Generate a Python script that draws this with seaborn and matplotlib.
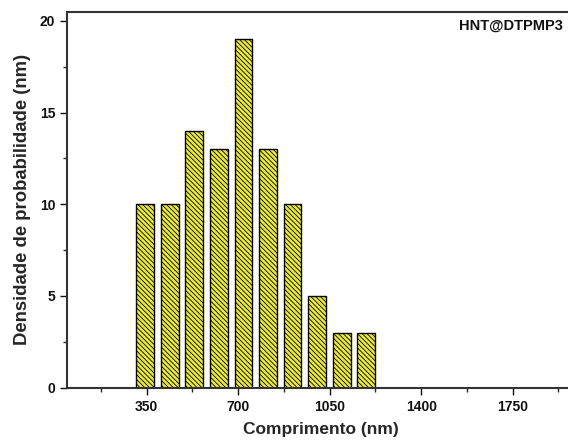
import matplotlib
matplotlib.use("Agg")
import matplotlib.pyplot as plt
import seaborn as sns
import numpy as np
from matplotlib.ticker import MultipleLocator

# Data
bin_centers = [344, 438, 532, 626, 720, 814, 908, 1002, 1096, 1190]
counts = [10, 10, 14, 13, 19, 13, 10, 5, 3, 3]
bin_width = 94
x_ticks = [350, 700, 1050, 1400, 1750]
y_ticks = [0, 5, 10, 15, 20]
label_text = "HNT@DTPMP3"

sns.set_theme(style="ticks")
plt.rcParams['font.family'] = ['Liberation Sans', 'DejaVu Sans']
plt.rcParams['hatch.color'] = '#5a5a18'
plt.rcParams['hatch.linewidth'] = 0.6

fig = plt.figure(figsize=(5.68, 4.45), dpi=100)
ax = fig.add_axes([67/568, 57.3/445, 0.895, 376/445])

edges_lo = bin_centers[0] - bin_width / 2
edges_hi = bin_centers[-1] + bin_width / 2
sns.histplot(x=bin_centers, weights=counts, binwidth=bin_width,
             binrange=(edges_lo, edges_hi), shrink=0.72,
             color='#eaea3a', alpha=1, edgecolor='black', linewidth=1.0, ax=ax)
for p in ax.patches:
    p.set_hatch('\\' * 7)
    p.set_facecolor('#eaea3a')

ax.set_xlim(45, 1990)
ax.set_ylim(0, 20.5)
ax.set_xticks(x_ticks)
ax.set_yticks(y_ticks)
ax.xaxis.set_minor_locator(MultipleLocator(175))
ax.yaxis.set_minor_locator(MultipleLocator(2.5))
ax.tick_params(axis='both', which='major', direction='out', length=5, width=1,
               labelsize=10, colors='#111111')
ax.tick_params(axis='both', which='minor', direction='out', length=3, width=1)
for lab in ax.get_xticklabels() + ax.get_yticklabels():
    lab.set_fontweight('bold')

for s in ax.spines.values():
    s.set_linewidth(1.5)
    s.set_color('#333333')

ax.set_xlabel("Comprimento (nm)", fontsize=12.5, fontweight='bold', labelpad=6)
ax.set_ylabel("Densidade de probabilidade (nm)", fontsize=13.3, fontweight='bold', labelpad=6)
fig.text(563/568, 1 - 19/445, label_text, ha='right', va='top',
         fontsize=10.5, fontweight='bold', color='#111111')

fig.savefig("out.png", dpi=100)
